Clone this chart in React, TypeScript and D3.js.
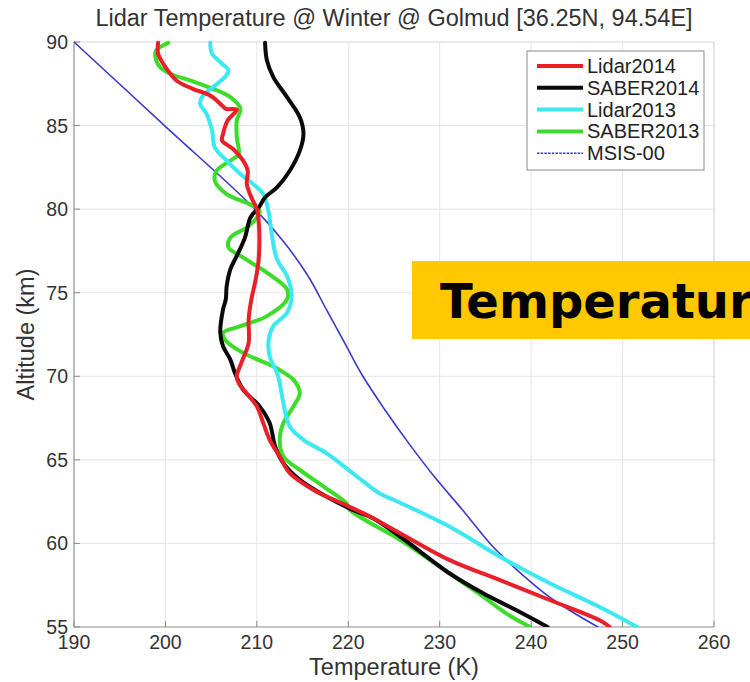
import React from "react";
import * as d3 from "d3";

// Altitude grid / temperature profiles (K) for the winter mean at Golmud
const lidar2014Alt = [89.95, 89.3, 88.5, 87.7, 87.2, 86.8, 86.2, 86.0, 85.95, 85.3, 84.5, 84.1, 83.6, 82.9, 82.3, 81.5, 80.7, 80.0, 79.3, 77.0, 75.6, 74.6, 73.4, 72.0, 70.8, 70.0, 69.6, 68.2, 67.2, 66.2, 65.2, 64.2, 63.2, 62.4, 61.6, 60.6, 59.0, 57.8, 56.6, 55.4, 55.0];
const lidar2014Temp = [199.2, 199.2, 200.0, 201.2, 203.0, 204.9, 206.2, 206.6, 207.8, 206.8, 206.3, 206.2, 207.4, 208.5, 209.0, 208.9, 209.4, 210.0, 210.2, 210.2, 209.8, 209.4, 209.1, 209.1, 208.3, 207.8, 208.0, 210.0, 210.7, 211.4, 212.5, 213.6, 216.2, 219.3, 222.4, 225.7, 231.1, 236.6, 242.1, 247.5, 248.6];

const saber2014Alt = [89.95, 88.9, 87.9, 86.7, 85.5, 84.5, 83.5, 82.3, 81.3, 80.7, 80.1, 79.5, 78.3, 77.2, 76.4, 75.4, 74.6, 74.0, 72.6, 71.8, 71.0, 70.2, 69.2, 68.2, 67.2, 65.8, 64.8, 63.8, 62.8, 62.0, 61.5, 60.4, 58.2, 57.0, 56.0, 55.0];
const saber2014Temp = [210.9, 211.1, 211.8, 213.3, 214.7, 215.1, 214.7, 213.6, 212.2, 210.9, 210.2, 209.3, 208.7, 207.8, 207.1, 206.7, 206.6, 206.3, 206.0, 206.3, 207.1, 207.6, 208.5, 210.3, 211.4, 212.0, 212.9, 214.7, 217.6, 220.5, 222.7, 225.7, 231.1, 234.8, 238.4, 241.8];

const lidar2013Alt = [89.95, 89.3, 88.7, 88.3, 87.9, 87.3, 86.7, 86.3, 85.7, 84.7, 83.7, 82.9, 82.1, 81.5, 80.9, 79.8, 78.6, 77.0, 76.0, 74.8, 73.8, 73.0, 72.2, 71.2, 70.2, 69.6, 68.4, 67.0, 66.2, 65.4, 64.2, 63.0, 62.6, 61.0, 59.2, 57.6, 56.2, 55.0];
const lidar2013Temp = [204.9, 205.1, 206.2, 206.9, 206.5, 205.2, 204.0, 203.8, 204.5, 205.1, 205.4, 206.7, 208.2, 209.6, 210.7, 211.3, 211.6, 212.2, 213.3, 213.8, 213.3, 211.8, 211.3, 211.4, 212.2, 212.5, 212.9, 213.6, 215.1, 217.6, 220.5, 223.4, 225.0, 231.1, 236.6, 242.1, 247.5, 251.6];

const saber2013Alt = [89.95, 89.5, 89.1, 88.5, 88.1, 87.7, 87.2, 86.7, 86.0, 85.3, 84.3, 83.3, 82.9, 82.3, 81.7, 80.9, 80.3, 79.9, 79.5, 78.9, 78.3, 77.7, 77.2, 76.2, 75.2, 74.6, 73.6, 73.0, 72.6, 72.2, 71.4, 70.6, 70.2, 69.8, 69.0, 68.2, 67.2, 66.2, 65.2, 64.4, 63.4, 62.4, 62.0, 60.2, 58.2, 56.8, 55.8, 55.0];
const saber2013Temp = [200.3, 199.0, 198.9, 199.4, 200.5, 202.7, 205.2, 207.1, 208.2, 207.8, 207.8, 208.0, 207.1, 205.6, 205.4, 206.7, 209.2, 210.3, 210.0, 208.9, 207.1, 206.9, 208.2, 211.1, 213.3, 213.3, 211.1, 208.2, 206.3, 206.5, 208.5, 211.8, 213.0, 214.0, 214.7, 214.0, 212.9, 212.5, 212.9, 214.7, 217.3, 219.8, 220.2, 225.7, 231.1, 234.8, 237.3, 239.9];

const msisAlt = [90, 85, 80, 78, 76, 74, 72, 70, 68, 66, 64, 62, 60, 59, 58, 57, 56, 55];
const msisTemp = [190, 199.9, 209.8, 213.0, 215.6, 217.6, 219.6, 221.6, 224.0, 226.6, 229.4, 232.5, 235.5, 237.3, 239.3, 241.5, 244.2, 247.3];

const seriesNames = ["Lidar2014", "SABER2014", "Lidar2013", "SABER2013", "MSIS-00"];
const seriesColors = ["#e8202a", "#0a0a0a", "#3ce8f2", "#3ddc2a", "#3a3acc"];
const seriesWidths = [4, 4, 4, 4, 1.6];
const seriesAlts = [lidar2014Alt, saber2014Alt, lidar2013Alt, saber2013Alt, msisAlt];
const seriesTemps = [lidar2014Temp, saber2014Temp, lidar2013Temp, saber2013Temp, msisTemp];

const tempTicks = [190, 200, 210, 220, 230, 240, 250, 260];
const altTicks = [55, 60, 65, 70, 75, 80, 85, 90];

const titleText = "Lidar Temperature @ Winter @ Golmud [36.25N, 94.54E]";
const xLabel = "Temperature (K)";
const yLabel = "Altitude (km)";
const bannerText = "Temperature";

const W = 750;
const H = 682;
const plot = { left: 74, right: 714, top: 42, bottom: 627 };
const sans = "'Liberation Sans', Arial, sans-serif";

export default function App() {
  const x = d3.scaleLinear().domain([190, 260]).range([plot.left, plot.right]);
  const y = d3.scaleLinear().domain([55, 90]).range([plot.bottom, plot.top]);

  const line = d3
    .line<[number, number]>()
    .x((d) => x(d[1]))
    .y((d) => y(d[0]))
    .curve(d3.curveCatmullRom.alpha(0.5));

  const paths = seriesNames.map((name, i) => {
    const pts: [number, number][] = seriesAlts[i].map((a, j) => [a, seriesTemps[i][j]]);
    return { name, d: line(pts) || "", color: seriesColors[i], width: seriesWidths[i] };
  });

  // legend box geometry
  const lg = { x: 527, y: 51, w: 177, h: 119, row0: 66, rowGap: 21.8 };

  return (
    <svg
      width={W}
      height={H}
      style={{ position: "absolute", left: 0, top: 0, background: "#fff" }}
      fontFamily={sans}
    >
      <rect x={0} y={0} width={W} height={H} fill="#fff" />
      <defs>
        <clipPath id="plotClip">
          <rect x={plot.left} y={plot.top - 3} width={plot.right - plot.left} height={plot.bottom - plot.top + 3} />
        </clipPath>
      </defs>

      {/* grid */}
      {tempTicks.map((t) => (
        <line key={"gx" + t} x1={x(t)} x2={x(t)} y1={plot.top} y2={plot.bottom} stroke="#e6e6e6" strokeWidth={1} />
      ))}
      {altTicks.map((a) => (
        <line key={"gy" + a} x1={plot.left} x2={plot.right} y1={y(a)} y2={y(a)} stroke="#e6e6e6" strokeWidth={1} />
      ))}

      {/* frame */}
      <line x1={plot.left} x2={plot.right} y1={plot.top} y2={plot.top} stroke="#e2e2e2" />
      <line x1={plot.right} x2={plot.right} y1={plot.top} y2={plot.bottom} stroke="#d8d8d8" />
      <line x1={plot.left} x2={plot.left} y1={plot.top} y2={plot.bottom} stroke="#9a9a9a" strokeWidth={1.2} />
      <line x1={plot.left} x2={plot.right} y1={plot.bottom} y2={plot.bottom} stroke="#9a9a9a" strokeWidth={1.2} />

      {/* ticks */}
      {tempTicks.map((t) => (
        <line key={"tx" + t} x1={x(t)} x2={x(t)} y1={plot.bottom} y2={plot.bottom - 6} stroke="#8a8a8a" />
      ))}
      {altTicks.map((a) => (
        <line key={"ty" + a} x1={plot.left} x2={plot.left + 6} y1={y(a)} y2={y(a)} stroke="#8a8a8a" />
      ))}

      {/* tick labels */}
      {tempTicks.map((t) => (
        <text key={"lx" + t} x={x(t)} y={plot.bottom + 22} textAnchor="middle" fontSize={19.5} fill="#333">
          {t}
        </text>
      ))}
      {altTicks.map((a) => (
        <text key={"ly" + a} x={plot.left - 6} y={y(a) + 7} textAnchor="end" fontSize={19.5} fill="#333">
          {a}
        </text>
      ))}

      {/* profiles */}
      <g clipPath="url(#plotClip)">
        {paths
          .slice()
          .reverse()
          .map((p) => (
            <path
              key={p.name}
              d={p.d}
              fill="none"
              stroke={p.color}
              strokeWidth={p.width}
              strokeLinejoin="round"
              strokeLinecap="round"
            />
          ))}
      </g>

      {/* legend */}
      <rect x={lg.x} y={lg.y} width={lg.w} height={lg.h} fill="#fff" stroke="#8c8c8c" strokeWidth={1} />
      {paths.map((p, i) => {
        const cy = lg.row0 + i * lg.rowGap;
        return (
          <g key={"lg" + p.name}>
            <line
              x1={lg.x + 10}
              x2={lg.x + 56}
              y1={cy}
              y2={cy}
              stroke={p.color}
              strokeWidth={p.width}
              strokeDasharray={i === 4 ? "2.5 1.2" : undefined}
            />
            <text x={lg.x + 60} y={cy + 7} fontSize={20} fill="#222">
              {p.name}
            </text>
          </g>
        );
      })}

      {/* titles */}
      <text x={(plot.left + plot.right) / 2} y={26} textAnchor="middle" fontSize={23.5} fill="#333">
        {titleText}
      </text>
      <text x={(plot.left + plot.right) / 2} y={675} textAnchor="middle" fontSize={23.5} fill="#333">
        {xLabel}
      </text>
      <text
        transform={`translate(34, ${(plot.top + plot.bottom) / 2}) rotate(-90)`}
        textAnchor="middle"
        fontSize={23.5}
        fill="#333"
      >
        {yLabel}
      </text>

      {/* banner */}
      <rect x={412} y={261} width={W - 412} height={78} fill="#ffc800" />
      <text x={440} y={318} fontSize={48} fontWeight="bold" fontFamily="'DejaVu Sans', Verdana, sans-serif" fill="#000">
        {bannerText}
      </text>
    </svg>
  );
}
